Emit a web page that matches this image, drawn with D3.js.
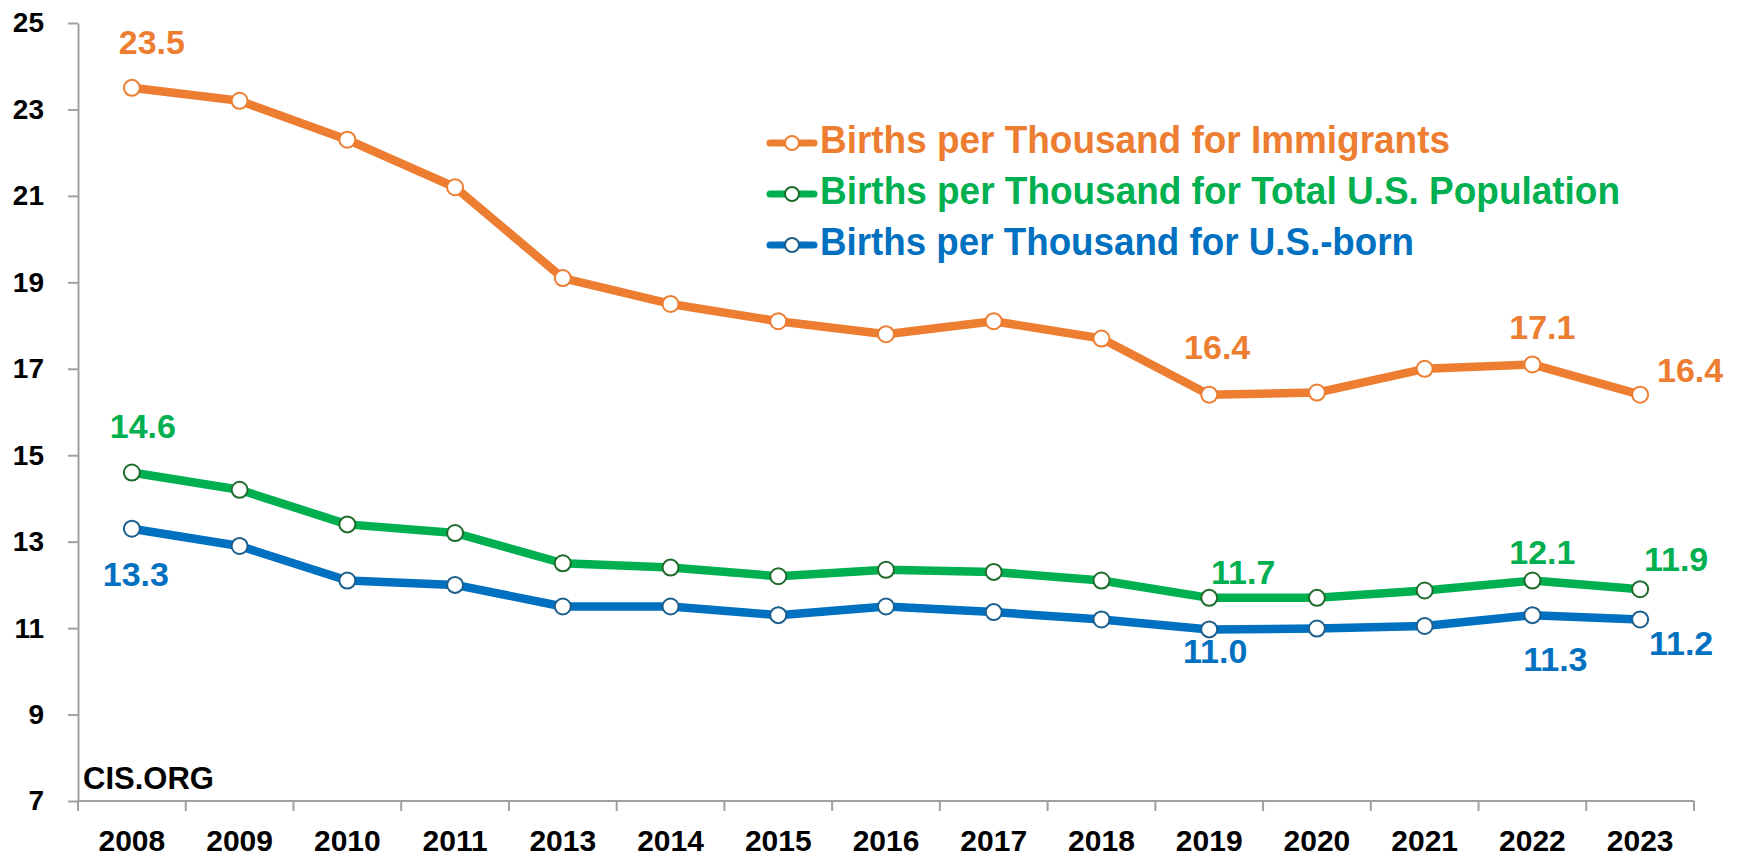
<!DOCTYPE html>
<html>
<head>
<meta charset="utf-8">
<script src="https://cdn.jsdelivr.net/npm/d3@7"></script>
<style>
  body { margin: 0; background: #fff; }
  svg { display: block; }
</style>
</head>
<body>
<div id="chart"></div>
<script>
// data
let years = ["2008", "2009", "2010", "2011", "2013", "2014", "2015", "2016", "2017", "2018", "2019", "2020", "2021", "2022", "2023"];
let immigrants = [23.5, 23.2, 22.3, 21.2, 19.1, 18.5, 18.1, 17.8, 18.1, 17.7, 16.4, 16.45, 17.0, 17.1, 16.4];
let totalPop = [14.6, 14.2, 13.4, 13.2, 12.5, 12.4, 12.2, 12.35, 12.3, 12.1, 11.7, 11.7, 11.87, 12.1, 11.9];
let usBorn = [13.3, 12.9, 12.1, 12.0, 11.5, 11.5, 11.3, 11.5, 11.37, 11.2, 10.97, 10.99, 11.05, 11.3, 11.2];
let yTicks = [7, 9, 11, 13, 15, 17, 19, 21, 23, 25];
let seriesNames = ["Births per Thousand for Immigrants", "Births per Thousand for Total U.S. Population", "Births per Thousand for U.S.-born"];
// which points carry a value label: [series index, year index]
let labelled = [[0, 0], [0, 10], [0, 13], [0, 14], [1, 0], [1, 10], [1, 13], [1, 14], [2, 0], [2, 10], [2, 13], [2, 14]];

let width = 1738, height = 859;

let colors = ['#ED7D31', '#00B050', '#0070C0'];
let markerStroke = ['#ED7D31', '#1E6B2C', '#1B5E8C'];
let font = "'Liberation Sans', Arial, sans-serif";

// label offsets (dx, dy of baseline) from the point, per series/year
let labelPos = {
  "0-0": [20, -34], "0-10": [8, -36], "0-13": [10, -25], "0-14": [50, -13],
  "1-0": [11, -35], "1-10": [34, -14], "1-13": [10, -17], "1-14": [36, -18],
  "2-0": [4, 57], "2-10": [6, 34], "2-13": [23, 56], "2-14": [41, 36]
};

let svg = d3.select("#chart").append("svg")
  .attr("width", width)
  .attr("height", height);

svg.append("rect").attr("width", width).attr("height", height).attr("fill", "#fff");

let x = d3.scaleBand().domain(years).range([78, 1694]).padding(0);
let y = d3.scaleLinear().domain([7, 25]).range([801, 23]);

//////////////////////// axes ////////////////////////
let axisColor = "#A0A0A0";

let yAxis = svg.append("g")
  .attr("transform", "translate(78,0)")
  .call(d3.axisLeft(y).tickValues(yTicks).tickSize(10).tickSizeOuter(0).tickPadding(24));
yAxis.select(".domain").attr("stroke", axisColor).attr("stroke-width", 2);
yAxis.selectAll(".tick line").attr("stroke", axisColor).attr("stroke-width", 2);
yAxis.selectAll(".tick text")
  .attr("fill", "#000")
  .style("font", "bold 28px " + font);

let xAxis = svg.append("g")
  .attr("transform", "translate(0,801)")
  .call(d3.axisBottom(x).tickSize(0).tickPadding(29));
xAxis.select(".domain").remove();
xAxis.selectAll(".tick text")
  .attr("fill", "#000")
  .attr("dy", "0.71em")
  .style("font", "bold 30px " + font);

svg.append("line")
  .attr("x1", 78).attr("x2", x.range()[1])
  .attr("y1", 801).attr("y2", 801)
  .attr("stroke", axisColor).attr("stroke-width", 2);

// tick marks sit on the category boundaries
svg.append("g")
  .selectAll("line")
  .data(d3.range(years.length + 1))
  .enter().append("line")
  .attr("x1", i => x.range()[0] + i * x.step())
  .attr("x2", i => x.range()[0] + i * x.step())
  .attr("y1", 801).attr("y2", 811)
  .attr("stroke", axisColor).attr("stroke-width", 2);

//////////////////////// lines ////////////////////////
let series = [immigrants, totalPop, usBorn];
let cx = (d, i) => x(years[i]) + x.bandwidth() / 2;

let line = d3.line()
  .x(cx)
  .y(d => y(d));

// draw back to front so orange ends on top
[2, 1, 0].forEach(s => {
  let g = svg.append("g");
  g.append("path")
    .datum(series[s])
    .attr("d", line)
    .attr("fill", "none")
    .attr("stroke", colors[s])
    .attr("stroke-width", 8.5)
    .attr("stroke-linejoin", "round");
  g.selectAll("circle")
    .data(series[s])
    .enter().append("circle")
    .attr("cx", cx)
    .attr("cy", d => y(d))
    .attr("r", 8)
    .attr("fill", "#fff")
    .attr("stroke", markerStroke[s])
    .attr("stroke-width", 2);
});

//////////////////////// value labels ////////////////////////
svg.append("g")
  .selectAll("text")
  .data(labelled)
  .enter().append("text")
  .attr("x", d => cx(null, d[1]) + labelPos[d[0] + "-" + d[1]][0])
  .attr("y", d => y(series[d[0]][d[1]]) + labelPos[d[0] + "-" + d[1]][1])
  .attr("text-anchor", "middle")
  .attr("fill", d => colors[d[0]])
  .style("font", "bold 34px " + font)
  .text(d => d3.format(".1f")(series[d[0]][d[1]]));

//////////////////////// legend ////////////////////////
let legendWidths = [630, 800, 594];
let legend = svg.append("g");
seriesNames.forEach((name, s) => {
  let ly = 143 + s * 51;
  legend.append("line")
    .attr("x1", 770).attr("x2", 814)
    .attr("y1", ly).attr("y2", ly)
    .attr("stroke", colors[s]).attr("stroke-width", 7)
    .attr("stroke-linecap", "round");
  legend.append("circle")
    .attr("cx", 792).attr("cy", ly).attr("r", 7)
    .attr("fill", "#fff")
    .attr("stroke", markerStroke[s]).attr("stroke-width", 2);
  legend.append("text")
    .attr("x", 820).attr("y", ly + 10)
    .attr("fill", colors[s])
    .attr("textLength", legendWidths[s])
    .attr("lengthAdjust", "spacingAndGlyphs")
    .style("font", "bold 38px " + font)
    .text(name);
});

svg.append("text")
  .attr("x", 83).attr("y", 789)
  .attr("fill", "#000")
  .style("font", "bold 31px " + font)
  .text("CIS.ORG");
</script>
</body>
</html>
